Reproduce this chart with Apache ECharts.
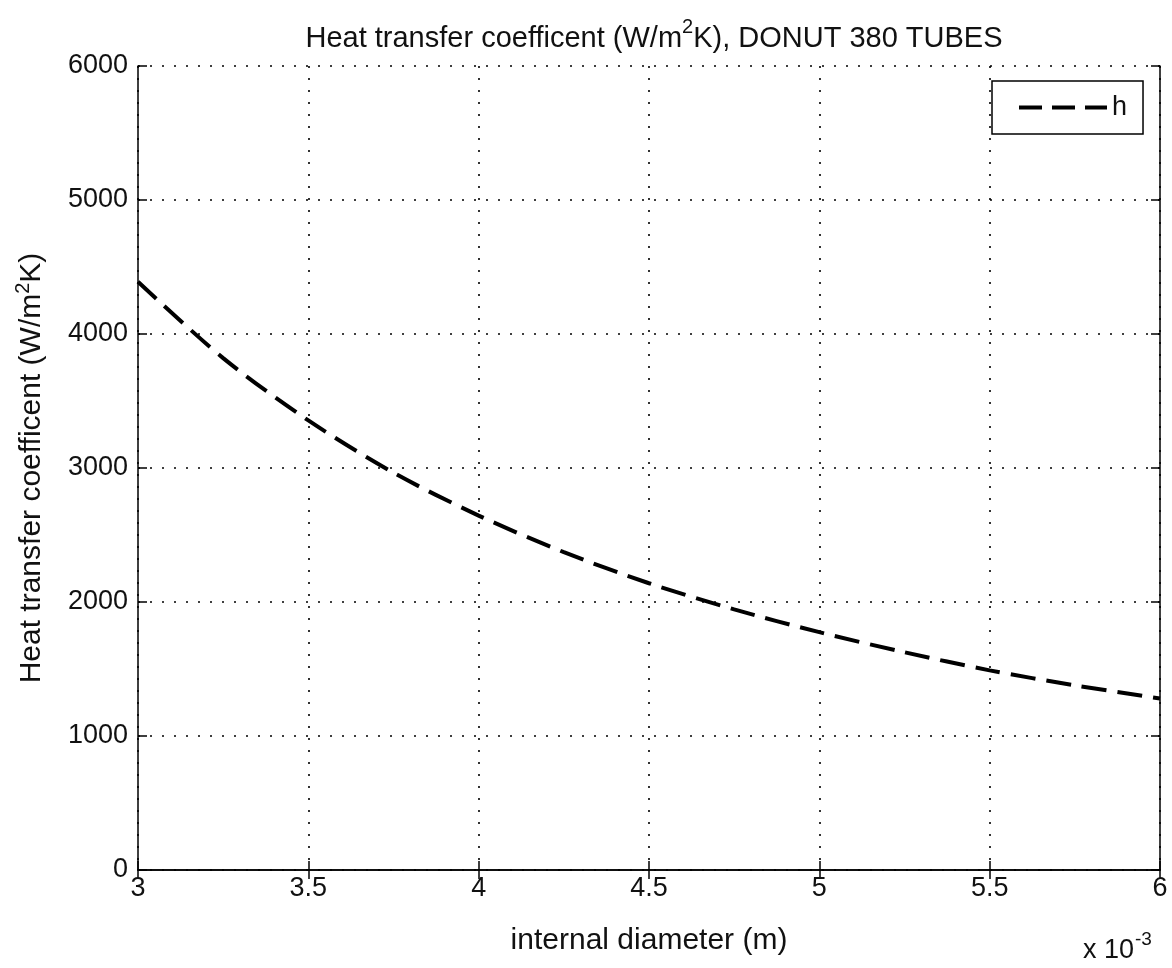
<!DOCTYPE html>
<html>
<head>
<meta charset="utf-8">
<script src="https://cdn.jsdelivr.net/npm/echarts@6/dist/echarts.min.js"></script>
<style>
html,body{margin:0;padding:0;background:#fff;}
#c{width:1172px;height:968px;}
</style>
</head>
<body>
<div id="c"></div>
<script>
// internal diameter (x 10^-3 m)
const diameters = [3.0, 3.25, 3.5, 3.75, 4.0, 4.25, 4.5, 4.75, 5.0, 5.25, 5.5, 5.75, 6.0];
// heat transfer coefficient h (W/m^2K)
const hValues = [4390, 3820, 3355, 2965, 2645, 2372, 2140, 1945, 1775, 1625, 1490, 1378, 1280];
const xTicks = [3, 3.5, 4, 4.5, 5, 5.5, 6];
const yTicks = [0, 1000, 2000, 3000, 4000, 5000, 6000];

const FONT = "'Liberation Sans Narrow', 'Liberation Sans', Arial, sans-serif";
const chart = echarts.init(document.getElementById('c'));

const frameLine = {show: true, lineStyle: {color: '#000', width: 1.5}};
const tickIn = {show: true, inside: true, length: 9, lineStyle: {color: '#000', width: 1.5}};
const dotted = {show: true, lineStyle: {color: '#000', width: 1.6, type: [2, 10]}};

chart.setOption({
  backgroundColor: '#fff',
  animation: false,
  textStyle: {fontFamily: FONT, color: '#111'},
  title: {
    text: '{a|Heat transfer coefficent (W/m}{s|2}{a|K), DONUT 380 TUBES}',
    left: 649, top: 12, textAlign: 'center',
    textStyle: {
      fontWeight: 'normal',
      rich: {
        a: {fontFamily: FONT, fontSize: 29, fontWeight: 'normal', color: '#111', verticalAlign: 'bottom', lineHeight: 36},
        s: {fontFamily: FONT, fontSize: 20, fontWeight: 'normal', color: '#111', verticalAlign: 'top', padding: [0, 0, 15, 0], lineHeight: 36}
      }
    }
  },
  legend: {
    left: 992, top: 81,
    padding: [13, 16, 13, 27],
    itemWidth: 88, itemHeight: 4, itemGap: 8,
    borderColor: '#000', borderWidth: 1.5, backgroundColor: '#fff',
    textStyle: {fontFamily: FONT, fontSize: 27, color: '#111'},
    data: [{name: 'h', icon: 'path://M0,0h23v4h-23z M33,0h23v4h-23z M66,0h22v4h-22z', itemStyle: {color: '#000'}}]
  },
  grid: {left: 138, right: 12, top: 66, bottom: 98, containLabel: false, outerBoundsMode: 'none'},
  xAxis: [
    {
      type: 'value', min: 3, max: 6, interval: 0.5, position: 'bottom',
      name: 'internal diameter (m)', nameLocation: 'middle', nameGap: 56,
      nameTextStyle: {fontFamily: FONT, fontSize: 30, color: '#111'},
      axisLine: frameLine, axisTick: tickIn, splitLine: dotted,
      axisLabel: {margin: 5, fontFamily: FONT, fontSize: 27, color: '#111',
        formatter: v => xTicks.includes(v) ? String(v) : ''}
    },
    {
      type: 'value', min: 3, max: 6, interval: 0.5, position: 'top',
      axisLine: frameLine, axisTick: tickIn, splitLine: {show: false}, axisLabel: {show: false}
    }
  ],
  yAxis: [
    {
      type: 'value', min: 0, max: 6000, interval: 1000, position: 'left',
      name: '{a|Heat transfer coefficent (W/m}{s|2}{a|K)}', nameLocation: 'middle', nameGap: 91,
      nameTextStyle: {
        rich: {
          a: {fontFamily: FONT, fontSize: 30, color: '#111', verticalAlign: 'bottom', lineHeight: 34},
          s: {fontFamily: FONT, fontSize: 20, color: '#111', verticalAlign: 'top', padding: [0, 0, 14, 0], lineHeight: 34}
        }
      },
      axisLine: frameLine, axisTick: tickIn, splitLine: dotted,
      axisLabel: {margin: 10, fontFamily: FONT, fontSize: 27, color: '#111',
        formatter: v => yTicks.includes(v) ? String(v) : ''}
    },
    {
      type: 'value', min: 0, max: 6000, interval: 1000, position: 'right',
      axisLine: frameLine, axisTick: tickIn, splitLine: {show: false}, axisLabel: {show: false}
    }
  ],
  graphic: [
    {
      type: 'text', left: 1083, top: 930,
      style: {
        text: '{a|x 10}{s|-3}',
        rich: {
          a: {fontFamily: FONT, fontSize: 27, fill: '#111', verticalAlign: 'bottom', lineHeight: 34},
          s: {fontFamily: FONT, fontSize: 19, fill: '#111', verticalAlign: 'top', padding: [0, 0, 16, 1], lineHeight: 34}
        }
      }
    }
  ],
  series: [
    {
      name: 'h', type: 'line', xAxisIndex: 0, yAxisIndex: 0,
      data: diameters.map((d, i) => [d, hValues[i]]),
      smooth: 0.3, symbol: 'none',
      lineStyle: {color: '#000', width: 4, type: [25, 11]},
      itemStyle: {color: '#000'}
    }
  ]
});
</script>
</body>
</html>
